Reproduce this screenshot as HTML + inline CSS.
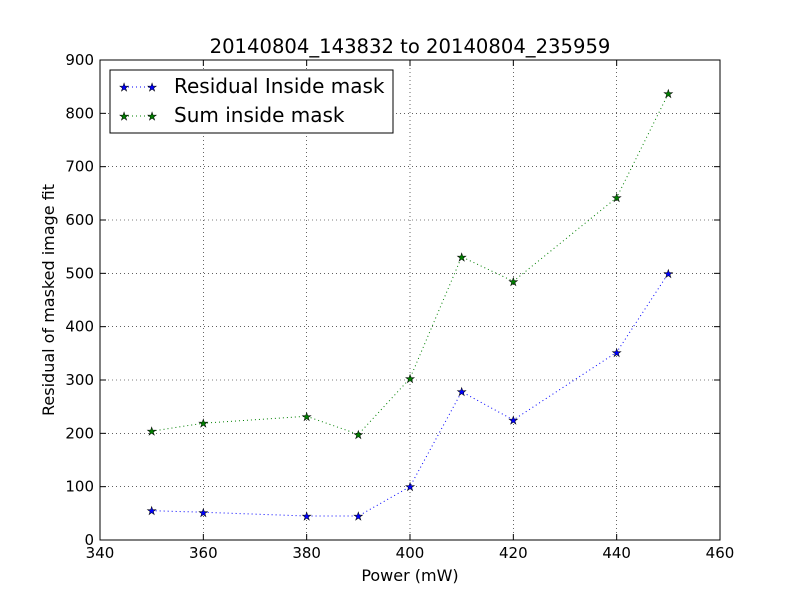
<!DOCTYPE html>
<html><head><meta charset="utf-8"><style>
body{margin:0;background:#fff;font-family:"DejaVu Sans","Liberation Sans",sans-serif;}
</style></head><body>
<svg id="chart" width="800" height="600" xmlns="http://www.w3.org/2000/svg" font-family="DejaVu Sans, Liberation Sans, sans-serif">
<rect width="800" height="600" fill="#fff"/>
<g id="grid"></g>
<g id="series"></g>
<rect x="100" y="60" width="620" height="480" fill="none" stroke="#000" stroke-width="1"/>
<g id="ticks"></g>
<text x="410" y="53" font-size="19.6" text-anchor="middle">20140804_143832 to 20140804_235959</text>
<text x="410" y="581" font-size="16" text-anchor="middle">Power (mW)</text>
<text x="54" y="300" font-size="16" text-anchor="middle" transform="rotate(-90 54 300)">Residual of masked image fit</text>
<g>
<rect x="110" y="70" width="283" height="63" fill="#fff" stroke="#000"/>
<g>
<line x1="124" y1="87" x2="152" y2="87" stroke="#0000ff" stroke-dasharray="1,3"/>
<text x="124" y="91" font-size="11" fill="#0000ff" stroke="#000" stroke-width="0.5" text-anchor="middle">★</text>
<text x="152" y="91" font-size="11" fill="#0000ff" stroke="#000" stroke-width="0.5" text-anchor="middle">★</text>
<text x="174" y="93" font-size="20">Residual Inside mask</text>
</g>
<g>
<line x1="124" y1="116" x2="152" y2="116" stroke="#008000" stroke-dasharray="1,3"/>
<text x="124" y="120" font-size="11" fill="#008000" stroke="#000" stroke-width="0.5" text-anchor="middle">★</text>
<text x="152" y="120" font-size="11" fill="#008000" stroke="#000" stroke-width="0.5" text-anchor="middle">★</text>
<text x="174" y="122" font-size="20">Sum inside mask</text>
</g>
</g>
</svg>
<script>
const xValues=[350,360,380,390,400,410,420,440,450];
const residualValues=[55,52,45,45,100,278,225,352,500];
const sumValues=[204,219,232,198,303,531,485,642,837];
const xTicks=[340,360,380,400,420,440,460];
const yTicks=[0,100,200,300,400,500,600,700,800,900];
const NS="http://www.w3.org/2000/svg";
const X=v=>100+(v-340)/120*620;
const Y=v=>540-v/900*480;
function mk(t,a,p){const e=document.createElementNS(NS,t);for(const k in a)e.setAttribute(k,a[k]);p.appendChild(e);return e;}
const grid=document.getElementById('grid'),ticks=document.getElementById('ticks'),series=document.getElementById('series');
xTicks.forEach(t=>{const x=X(t);
 const g=mk('line',{x1:x,x2:x,y1:60,y2:540,stroke:'#000','stroke-dasharray':'1,3','stroke-width':0.6},grid);
 
 
 mk('line',{x1:x,x2:x,y1:540,y2:534,stroke:'#000'},ticks);
 mk('line',{x1:x,x2:x,y1:60,y2:66,stroke:'#000'},ticks);
 const l=mk('text',{x:x,y:558,'font-size':15,'text-anchor':'middle'},ticks);l.textContent=t;
 
 
});
yTicks.forEach(t=>{const y=Y(t);
 const g=mk('line',{x1:100,x2:720,y1:y,y2:y,stroke:'#000','stroke-dasharray':'1,3','stroke-width':0.6},grid);
 
 
 mk('line',{x1:100,x2:106,y1:y,y2:y,stroke:'#000'},ticks);
 mk('line',{x1:714,x2:720,y1:y,y2:y,stroke:'#000'},ticks);
 const l=mk('text',{x:94,y:y+5,'font-size':15,'text-anchor':'end'},ticks);l.textContent=t;
 
 
});
function draw(vals,color,name){
 const g=mk('g',{},series);
 
 
 mk('polyline',{points:xValues.map((x,i)=>X(x)+','+Y(vals[i])).join(' '),fill:'none',stroke:color,'stroke-dasharray':'1,3'},g);
 xValues.forEach((x,i)=>{
  const s=mk('text',{x:X(x),y:Y(vals[i])+4,'font-size':11,fill:color,stroke:'#000','stroke-width':0.5,'text-anchor':'middle'},g);
  s.textContent='★';
  
  
 });
}
draw(residualValues,'#0000ff','residual-series');
draw(sumValues,'#008000','sum-series');
</script>
</body></html>
